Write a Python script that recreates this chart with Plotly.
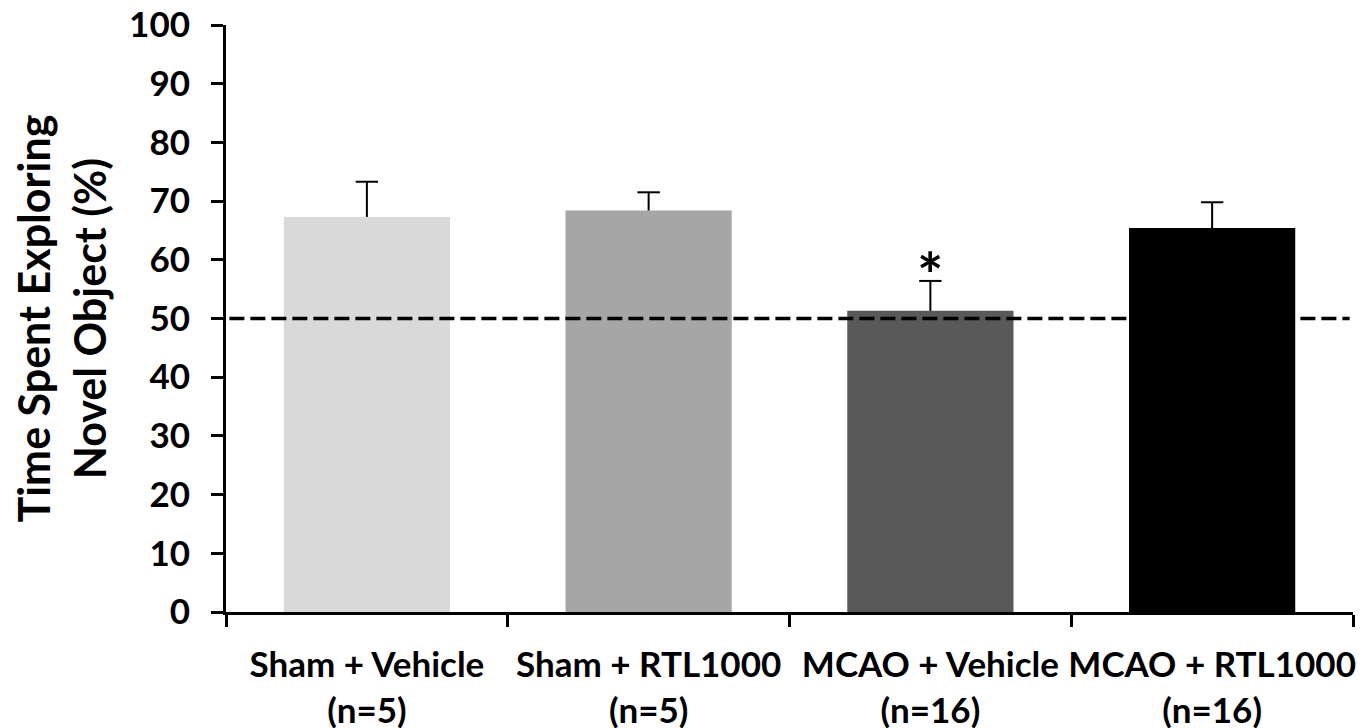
import plotly.graph_objects as go

categories = ["Sham + Vehicle<br>(n=5)", "Sham + RTL1000<br>(n=5)",
              "MCAO + Vehicle<br>(n=16)", "MCAO + RTL1000<br>(n=16)"]
means = [67.3, 68.4, 51.3, 65.4]
sem = [6.0, 3.1, 5.1, 4.4]
bar_colors = ["#d9d9d9", "#a6a6a6", "#595959", "#000000"]
chance_level = 50
significance = ["", "", "*", ""]
y_ticks = [0, 10, 20, 30, 40, 50, 60, 70, 80, 90, 100]

FONT = "Lato"

fig = go.Figure()
fig.add_trace(go.Bar(
    x=categories, y=means, width=0.59,
    marker=dict(color=bar_colors, line=dict(width=0)),
    showlegend=False, hoverinfo="skip",
))

# error bar stems
sx, sy = [], []
for c, m, e in zip(categories, means, sem):
    sx += [c, c, None]
    sy += [m, m + e, None]
fig.add_trace(go.Scatter(x=sx, y=sy, mode="lines",
                         line=dict(color="black", width=2),
                         showlegend=False, hoverinfo="skip"))
# error bar caps
fig.add_trace(go.Scatter(x=categories, y=[m + e for m, e in zip(means, sem)],
                         mode="markers",
                         marker=dict(symbol="line-ew", size=16,
                                     line=dict(color="black", width=2)),
                         showlegend=False, hoverinfo="skip"))

for c, m, e, s in zip(categories, means, sem, significance):
    if s:
        fig.add_annotation(x=c, y=m + e, text=s, showarrow=False,
                           yanchor="bottom", yshift=-32,
                           font=dict(family=FONT, size=62, color="black", weight=700))

fig.add_shape(type="line", xref="paper", yref="y", x0=0.003, x1=0.997,
              y0=chance_level, y1=chance_level,
              line=dict(color="black", width=3.5, dash="15px,6px"), layer="above")

fig.update_layout(
    width=1364, height=728,
    margin=dict(l=218, r=19, t=17, b=124),
    paper_bgcolor="white", plot_bgcolor="white",
    font=dict(family=FONT, color="black", weight=700),
)
fig.update_xaxes(
    type="category", tickson="boundaries", ticks="outside", ticklen=12,
    tickwidth=3, tickcolor="black", showline=True, linewidth=3, linecolor="black",
    tickfont=dict(family=FONT, size=35, color="black", weight=700),
    tickangle=0, automargin=False, ticklabelstandoff=20,
    ticklabeloverflow="allow",
    showgrid=False, zeroline=False, range=[-0.5, 3.5],
)
fig.update_yaxes(
    range=[0, 100], tickvals=y_ticks, ticks="outside", ticklen=12, tickwidth=3,
    tickcolor="black", showline=True, linewidth=3, linecolor="black",
    tickfont=dict(family=FONT, size=35, color="black", weight=700),
    showgrid=False, zeroline=False, ticklabelstandoff=14, automargin=False,
    ticklabeloverflow="allow",
    title=dict(text="Time Spent Exploring<br>Novel Object (%)",
               font=dict(family=FONT, size=43, color="black", weight=700),
               standoff=22),
)

fig.write_html("out.html")
